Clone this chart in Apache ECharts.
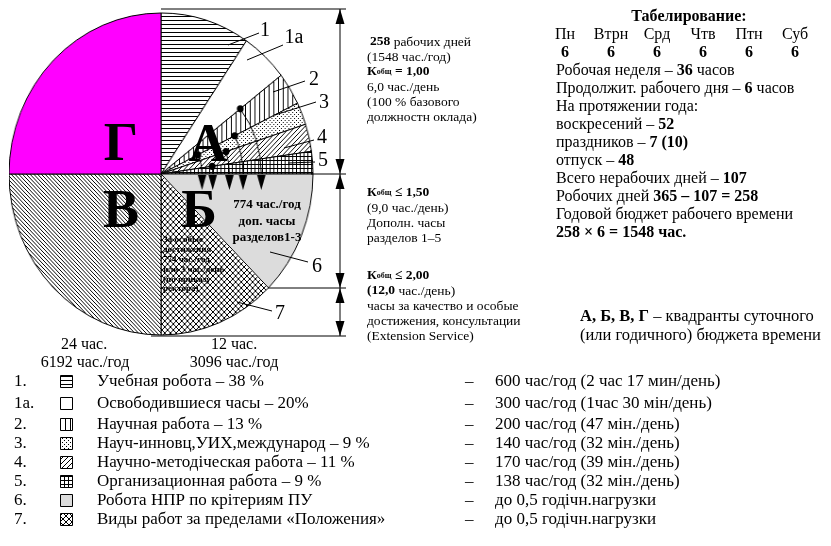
<!DOCTYPE html>
<html><head><meta charset="utf-8">
<script src="https://cdn.jsdelivr.net/npm/echarts@6/dist/echarts.min.js"></script>
<style>
html,body{margin:0;padding:0;background:#fff}
#wrap{position:relative;width:831px;height:546px;overflow:hidden}
#p,#c{position:absolute;left:0;top:0;width:831px;height:546px}
#p{transform-origin:161px 174px;transform:scaleX(0.944)}
</style>
</head><body><div id="wrap"><div id="p"></div><div id="c"></div></div>
<script>
// ---- data ----
const quadA_ids = ['1', '1а', '2', '3', '4', '5'];
const quadA_pct = [38, 20, 13, 9, 11, 9];
const quadB_ids = ['6', '7'];
const quadB_pct = [50, 50];
const quadLetters = ['А', 'Б', 'В', 'Г'];
const legendNums = ['1.', '1а.', '2.', '3.', '4.', '5.', '6.', '7.'];
const legendLabels = ['Учебная робота – 38 %', 'Освободившиеся часы – 20%', 'Научная работа – 13 %',
  'Науч-инновц,УИХ,международ – 9 %', 'Научно-методіческая работа – 11 %', 'Организационная работа – 9 %',
  'Робота НПР по крітериям ПУ', 'Виды работ за пределами «Положения»'];
const legendValues = ['600 час/год (2 час 17 мин/день)', '300 час/год (1час 30 мін/день)', '200 час/год (47 мін./день)',
  '140 час/год (32 мін./день)', '170 час/год (39 мін./день)', '138 час/год (32 мін./день)',
  'до 0,5 годічн.нагрузки', 'до 0,5 годічн.нагрузки'];
const weekDays = ['Пн', 'Втрн', 'Срд', 'Чтв', 'Птн', 'Суб'];
const dayHours = [6, 6, 6, 6, 6, 6];

// ---- patterns ----
function pat(w, h, draw, bg) {
  const c = document.createElement('canvas'); c.width = w; c.height = h;
  const g = c.getContext('2d'); g.fillStyle = bg || '#fff'; g.fillRect(0, 0, w, h);
  g.fillStyle = '#000'; draw(g, w, h);
  return { image: c, repeat: 'repeat' };
}
const P = {
  hor: pat(4, 4, g => g.fillRect(0, 0, 4, 1)),
  white: '#ffffff',
  ver: pat(5, 5, g => g.fillRect(0, 0, 1, 5)),
  dots: pat(4, 4, g => { g.fillRect(0, 0, 1, 1); g.fillRect(2, 2, 1, 1); }),
  diag: pat(5, 5, g => { for (let i = 0; i < 5; i++) g.fillRect(i, 4 - i, 1, 1); }),
  grid: pat(4, 4, g => { g.fillRect(0, 0, 4, 1); g.fillRect(0, 0, 1, 4); }),
  gray: '#dcdcdc',
  cross: pat(6, 6, g => { for (let i = 0; i < 6; i++) { g.fillRect(i, i, 1, 1); g.fillRect(i, 5 - i, 1, 1); } }),
  back: pat(4, 4, g => { for (let i = 0; i < 4; i++) g.fillRect(i, i, 1, 1); }),
  mag: '#ff00ff'
};
const fillsA = [P.hor, P.white, P.ver, P.dots, P.diag, P.grid];
const fillsB = [P.gray, P.cross];

const CX = 161, CY = 174, R = 161, SX = 0.944;
const SERIF = "'Liberation Serif','DejaVu Serif',serif";

const pieData = [];
quadA_ids.forEach((n, i) => pieData.push({ name: n, value: quadA_pct[i], itemStyle: { color: fillsA[i] } }));
quadB_ids.forEach((n, i) => pieData.push({ name: n, value: quadB_pct[i], itemStyle: { color: fillsB[i] } }));
pieData.push({ name: 'В', value: 100, itemStyle: { color: P.back } });
pieData.push({ name: 'Г', value: 100, itemStyle: { color: P.mag } });

// ---- graphics helpers ----
const G = [], GP = [];
function txt(x, y, parts, size, align) {
  let s = ''; const rich = {};
  parts.forEach((p, i) => {
    const k = 's' + i;
    const sz = p[2] || size;
    rich[k] = { fontFamily: SERIF, fontSize: sz, fontWeight: p[1] ? 'bold' : 'normal', fill: '#000',
      verticalAlign: 'middle', lineHeight: size + 2 };
    s += '{' + k + '|' + p[0] + '}';
  });
  G.push({ type: 'text', z: 100, x: x, y: y,
    style: { text: s, rich: rich, align: align || 'left', verticalAlign: 'middle' } });
}
function line(x1, y1, x2, y2, w) {
  G.push({ type: 'line', z: 100, shape: { x1, y1, x2, y2 }, style: { stroke: '#000', lineWidth: w || 1 } });
}
function arrowHead(arr, x, y, dir) { // dir 1 = down, -1 = up
  arr.push({ type: 'polygon', z: 100, shape: { points: [[x - 4.5, y - dir * 15], [x + 4.5, y - dir * 15], [x, y]] }, style: { fill: '#000' } });
}

// dimension lines on the right
const DX = 340;
const y0 = CY - R - 4, y1 = CY, y2 = 288, y3 = CY + R + 1;
line(CX, y0, DX + 6, y0); line(CX + R * SX - 2, y1, DX + 6, y1);
line(268, y2, DX + 6, y2); line(CX - 10, y3, DX + 6, y3);
[[y0, y1], [y1, y2], [y2, y3]].forEach(s => {
  line(DX, s[0], DX, s[1]); arrowHead(G, DX, s[0], -1); arrowHead(G, DX, s[1], 1);
});

// arcs, dots and arrows in quadrant A (drawn in the pie's own coordinate frame)
const cum = []; quadA_pct.reduce((a, v) => { cum.push(a + v); return a + v; }, 0);
const dotSpec = [[1, 0.66], [2, 0.54], [3, 0.45], [4, 0.34], [2, 0.27]];
dotSpec.forEach(d => {
  const phi = 90 * cum[d[0]] / 100; const a = (90 - phi) * Math.PI / 180; const r = R * d[1];
  const px = CX + r * Math.cos(a), py = CY - r * Math.sin(a);
  GP.push({ type: 'arc', z: 101, shape: { cx: CX, cy: CY, r: r, startAngle: -a, endAngle: 0, clockwise: true }, style: { stroke: '#000', lineWidth: 1, fill: null } });
  GP.push({ type: 'circle', z: 102, shape: { cx: px, cy: py, r: 3.6 }, style: { fill: '#000' } });
  arrowHead(GP, CX + r, CY + 16, 1);
});

// big quadrant letters
const letterPos = [[208, 147], [199, 213], [121, 213], [121, 146]];
quadLetters.forEach((l, i) => txt(letterPos[i][0], letterPos[i][1], [[l, true, 54]], 54, 'center'));

// sector number labels with leader lines
const labs = [['1', 265, 31, 228, 45, 259, 33], ['1а', 294, 38, 247, 60, 283, 45], ['2', 314, 80, 273, 92, 305, 81],
  ['3', 324, 103, 275, 115, 316, 102], ['4', 322, 138, 284, 148, 314, 140], ['5', 323, 161, 288, 163, 315, 162],
  ['6', 317, 267, 270, 252, 308, 262], ['7', 280, 314, 237, 302, 272, 311]];
labs.forEach(l => { txt(l[1], l[2], [[l[0], false, 20]], 20, 'center'); line(l[3], l[4], l[5], l[6]); });

// text in Б
txt(267, 205, [['774 час./год', true]], 13, 'center');
txt(267, 222, [['доп. часы', true]], 13, 'center');
txt(267, 238, [['разделов1-3', true]], 13, 'center');
['За особые', 'достижения', '774 час./год', 'или 3 час./день', '(по приказу', 'ректора)'].forEach((s, i) =>
  txt(163, 240 + i * 9.8, [[s, true]], 9));

// bottom labels under the pie
const F3 = 16;
txt(84, 345, [['24 час.', false]], F3, 'center');
txt(85, 363, [['6192 час./год', false]], F3, 'center');
txt(234, 345, [['12 час.', false]], F3, 'center');
txt(234, 363, [['3096 час./год', false]], F3, 'center');

// right block next to dimension lines
const RX = 367, F1 = 13.5;
txt(RX + 3, 42, [['258', true], [' рабочих дней', false]], F1);
txt(RX, 57, [['(1548 час./год)', false]], F1);
txt(RX, 72, [['К', true], ['общ', true, 8], [' = 1,00', true]], F1);
txt(RX, 87, [['6,0 час./день', false]], F1);
txt(RX, 102, [['(100 % базового', false]], F1);
txt(RX, 117, [['должностн оклада)', false]], F1);
txt(RX, 193, [['К', true], ['общ', true, 8], [' ≤ 1,50', true]], F1);
txt(RX, 208, [['(9,0 час./день)', false]], F1);
txt(RX, 223, [['Дополн. часы', false]], F1);
txt(RX, 238, [['разделов 1–5', false]], F1);
txt(RX, 276, [['К', true], ['общ', true, 8], [' ≤ 2,00', true]], F1);
txt(RX, 291, [['(12,0', true], [' час./день)', false]], F1);
txt(RX, 306, [['часы за качество и особые', false]], F1);
txt(RX, 321, [['достижения, консультации', false]], F1);
txt(RX, 336, [['(Extension Service)', false]], F1);

// table block
const TX = 556, F2 = 16, LH = 18, T0 = 17;
txt(689, T0, [['Табелирование:', true]], F2, 'center');
weekDays.forEach((d, i) => {
  txt(565 + 46 * i, T0 + LH, [[d, false]], F2, 'center');
  txt(565 + 46 * i, T0 + 2 * LH, [[String(dayHours[i]), true]], F2, 'center');
});
const tbl = [
  [['Робочая неделя – ', false], ['36', true], [' часов', false]],
  [['Продолжит. рабочего дня – ', false], ['6', true], [' часов', false]],
  [['На протяжении года:', false]],
  [['воскресений – ', false], ['52', true]],
  [['праздников – ', false], ['7 (10)', true]],
  [['отпуск – ', false], ['48', true]],
  [['Всего нерабочих дней – ', false], ['107', true]],
  [['Робочих дней ', false], ['365 – 107 = 258', true]],
  [['Годовой бюджет рабочего времени', false]],
  [['258 × 6 = 1548 час.', true]]
];
tbl.forEach((p, i) => txt(TX, T0 + (3 + i) * LH, p, F2));

txt(580, 317, [['А, Б, В, Г', true], [' – квадранты суточного', false]], 16.5);
txt(580, 336, [['(или годичного) бюджета времени', false]], 16.5);

// legend
const F4 = 17;
const legY = [382, 404, 425, 444, 463, 482, 501, 520];
const legFill = [P.hor, P.white, P.ver, P.dots, P.diag, P.grid, P.gray, P.cross];
legY.forEach((y, i) => {
  txt(14, y, [[legendNums[i], false]], F4);
  G.push({ type: 'rect', z: 100, shape: { x: 60.5, y: y - 6.5, width: 12, height: 12 }, style: { fill: legFill[i], stroke: '#000', lineWidth: 1 } });
  txt(97, y, [[legendLabels[i], false]], F4);
  txt(465, y, [['–', false]], F4);
  txt(495, y, [[legendValues[i], false]], F4);
});

const pieChart = echarts.init(document.getElementById('p'), null, { renderer: 'canvas' });
pieChart.setOption({
  backgroundColor: '#fff',
  animation: false,
  series: [{
    type: 'pie', center: [CX, CY], radius: R, startAngle: 90, clockwise: true,
    silent: true, avoidLabelOverlap: false, label: { show: false }, labelLine: { show: false },
    itemStyle: { borderColor: '#000', borderWidth: 1 },
    data: pieData
  }],
  graphic: { elements: GP }
});
const chart = echarts.init(document.getElementById('c'), null, { renderer: 'canvas' });
chart.setOption({
  backgroundColor: 'transparent',
  animation: false,
  graphic: { elements: G }
});
</script></body></html>
